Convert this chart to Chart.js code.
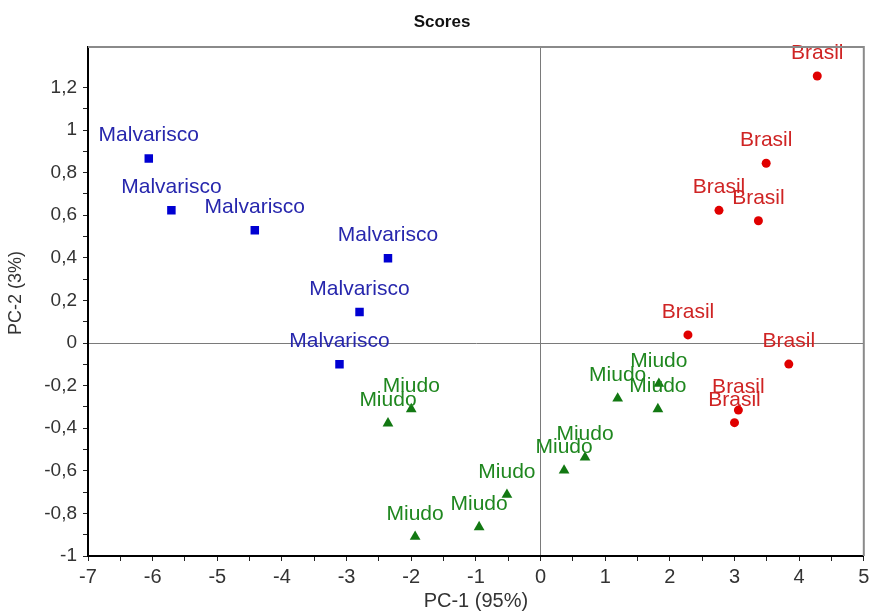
<!DOCTYPE html>
<html lang="pt">
<head>
    <meta charset="UTF-8">
    <title>Scores</title>
    <script src="https://cdn.jsdelivr.net/npm/chart.js"></script>
    <style>
        html, body { margin: 0; padding: 0; background: #fff; }
        #wrap { width: 870px; height: 612px; }
    </style>
    <script>
        // PCA scores (PC-1, PC-2)
        const malvariscoX = [-6.06, -5.71, -4.42, -2.36, -2.80, -3.11];
        const malvariscoY = [0.867, 0.624, 0.530, 0.398, 0.146, -0.100];

        const brasilX = [4.28, 3.49, 2.76, 3.37, 2.28, 3.84, 3.06, 3.00];
        const brasilY = [1.254, 0.844, 0.623, 0.574, 0.038, -0.099, -0.315, -0.374];

        const miudoX = [-2.00, -2.36, -1.94, -0.95, -0.52, 0.364, 0.688, 1.193, 1.83, 1.815];
        const miudoY = [-0.31, -0.377, -0.909, -0.864, -0.712, -0.598, -0.537, -0.260, -0.191, -0.31];

        const groupNames = ["Malvarisco", "Brasil", "Miudo"];
        const xTitle = "PC-1 (95%)";
        const yTitle = "PC-2 (3%)";
        const chartTitle = "Scores";
    </script>
</head>
<body>
    <div id="wrap"><canvas id="scores" width="870" height="612"></canvas></div>
    <script>
        function pts(xs, ys) {
            return xs.map((x, i) => ({ x: x, y: ys[i] }));
        }
        function comma(v) {
            return String(Math.round(v * 10) / 10).replace('.', ',');
        }

        const FONT = "'Liberation Sans', Arial, sans-serif";

        // draws the group name above each point, the top/right frame and the titles
        const extras = {
            id: 'extras',
            afterDatasetsDraw(chart) {
                const ctx = chart.ctx;
                const a = chart.chartArea;
                ctx.save();
                chart.data.datasets.forEach((ds, i) => {
                    const meta = chart.getDatasetMeta(i);
                    ctx.fillStyle = ds.textColor;
                    ctx.font = "21px " + FONT;
                    ctx.textAlign = 'center';
                    ctx.textBaseline = 'alphabetic';
                    meta.data.forEach(p => {
                        ctx.fillText(ds.label, p.x, p.y - 17);
                    });
                });
                // top and right frame
                ctx.strokeStyle = '#8a8a8a';
                ctx.lineWidth = 2;
                ctx.beginPath();
                ctx.moveTo(a.left, a.top);
                ctx.lineTo(a.right, a.top);
                ctx.lineTo(a.right, a.bottom);
                ctx.stroke();
                ctx.restore();
            },
            afterDraw(chart) {
                const ctx = chart.ctx;
                const a = chart.chartArea;
                ctx.save();
                ctx.fillStyle = '#111';
                ctx.textAlign = 'center';
                ctx.textBaseline = 'middle';
                ctx.font = "bold 17px 'Liberation Sans Narrow', " + FONT;
                ctx.fillText(chartTitle, 442, 22);
                ctx.fillStyle = '#333';
                ctx.font = "20px " + FONT;
                ctx.fillText(xTitle, (a.left + a.right) / 2, 601);
                ctx.translate(16, 293);
                ctx.rotate(-Math.PI / 2);
                ctx.font = "18px " + FONT;
                ctx.fillText(yTitle, 0, 0);
                ctx.restore();
            }
        };

        const zeroGrid = (ctx) => (ctx.tick && Math.abs(ctx.tick.value) < 1e-9) ? '#7a7a7a' : 'rgba(0,0,0,0)';

        new Chart(document.getElementById('scores'), {
            type: 'scatter',
            data: {
                datasets: [{
                    label: groupNames[0],
                    data: pts(malvariscoX, malvariscoY),
                    pointStyle: 'rect',
                    pointRadius: 6,
                    backgroundColor: '#0000d2',
                    borderColor: '#0000d2',
                    borderWidth: 0,
                    textColor: '#2727ad'
                }, {
                    label: groupNames[1],
                    data: pts(brasilX, brasilY),
                    pointStyle: 'circle',
                    pointRadius: 4.5,
                    backgroundColor: '#e00000',
                    borderColor: '#e00000',
                    borderWidth: 0,
                    textColor: '#cf2424'
                }, {
                    label: groupNames[2],
                    data: pts(miudoX, miudoY),
                    pointStyle: 'triangle',
                    pointRadius: 6.2,
                    backgroundColor: '#127812',
                    borderColor: '#127812',
                    borderWidth: 0,
                    textColor: '#1f871f'
                }]
            },
            options: {
                responsive: false,
                animation: false,
                layout: { padding: { top: 47, right: 6, left: 0, bottom: 0 } },
                plugins: {
                    legend: { display: false },
                    title: { display: false },
                    tooltip: { enabled: false }
                },
                scales: {
                    x: {
                        type: 'linear',
                        min: -7,
                        max: 5,
                        afterFit(s) { s.height = 56; s.paddingRight = 0; },
                        ticks: {
                            stepSize: 0.5,
                            autoSkip: false,
                            maxRotation: 0,
                            padding: 4,
                            color: '#333',
                            font: { family: FONT, size: 20 },
                            callback: (v) => Number.isInteger(v) ? String(v) : ''
                        },
                        grid: {
                            color: zeroGrid,
                            lineWidth: 1,
                            tickLength: 5,
                            tickColor: '#222',
                            tickWidth: 1
                        },
                        border: { color: '#000', width: 2 }
                    },
                    y: {
                        type: 'linear',
                        min: -1,
                        max: 1.39,
                        afterFit(s) { s.width = 88; },
                        ticks: {
                            stepSize: 0.1,
                            autoSkip: false,
                            padding: 6,
                            color: '#333',
                            font: { family: FONT, size: 19 },
                            callback: (v) => {
                                const t = Math.round(v * 10);
                                if (Math.abs(v * 10 - t) > 1e-6) return '';
                                return t % 2 === 0 ? comma(v) : '';
                            }
                        },
                        grid: {
                            color: zeroGrid,
                            lineWidth: 1,
                            tickLength: 5,
                            tickColor: (ctx) => {
                                const v = ctx.tick ? ctx.tick.value : 0;
                                return Math.abs(v * 10 - Math.round(v * 10)) > 1e-6 ? 'rgba(0,0,0,0)' : '#222';
                            },
                            tickWidth: 1
                        },
                        border: { color: '#000', width: 2 }
                    }
                }
            },
            plugins: [extras]
        });
    </script>
</body>
</html>
